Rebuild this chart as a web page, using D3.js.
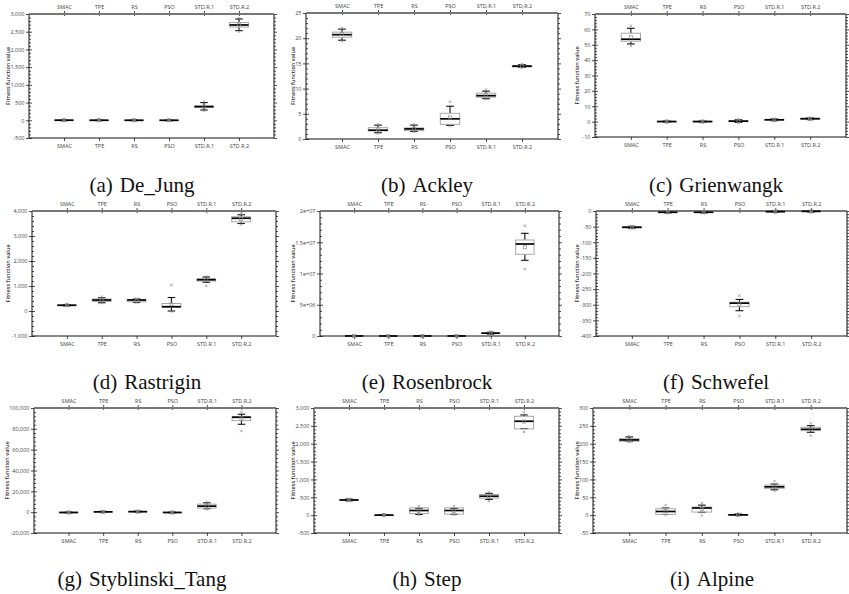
<!DOCTYPE html>
<html>
<head>
<meta charset="utf-8">
<script src="https://cdn.jsdelivr.net/npm/d3@7"></script>
<style>
  body { margin: 0; background: #fff; }
</style>
</head>
<body>
<svg id="chart" width="849" height="594"></svg>
<script>
// categories on every panel
var categories = ["SMAC", "TPE", "RS", "PSO", "STD.R.1", "STD.R.2"];

var captions = [
  ["(a)", "De_Jung"], ["(b)", "Ackley"], ["(c)", "Grienwangk"],
  ["(d)", "Rastrigin"], ["(e)", "Rosenbrock"], ["(f)", "Schwefel"],
  ["(g)", "Styblinski_Tang"], ["(h)", "Step"], ["(i)", "Alpine"]
];

// one row per category:
// [whiskerLow, q1, median, q3, whiskerHigh, mean, outlierLow, outlierHigh]
var deJung = [
  [-12, -4, 2, 8, 14, 2, -20, 22],
  [-10, -3, 1, 6, 12, 1, -15, 18],
  [-11, -4, 0, 6, 12, 1, -16, 20],
  [-13, -5, 0, 5, 11, 0, -18, 18],
  [290, 360, 385, 410, 500, 388, 270, 530],
  [2530, 2630, 2690, 2760, 2860, 2700, 2500, 2880]
];
var ackley = [
  [19.6, 20.2, 20.7, 21.2, 21.8, 20.8, 19.4, 22.0],
  [1.25, 1.6, 1.75, 2.25, 2.75, 1.9, 1.1, 2.9],
  [1.5, 1.65, 2.0, 2.2, 2.75, 2.0, 1.4, 2.9],
  [2.7, 2.9, 4.0, 5.1, 6.5, 4.3, 2.6, 7.4],
  [8.0, 8.3, 8.6, 9.1, 9.5, 8.7, 7.9, 9.8],
  [14.2, 14.3, 14.45, 14.6, 14.75, 14.45, 14.1, 14.9]
];
var grienwangk = [
  [50.5, 52.3, 53.6, 57.5, 60.7, 54.9, 49.2, 62.4],
  [-0.3, -0.1, 0.05, 0.2, 0.4, 0.05, -0.5, 0.6],
  [-0.3, -0.1, 0.05, 0.2, 0.4, 0.05, -0.5, 0.6],
  [-0.5, 0, 0.3, 0.7, 1.2, 0.4, -0.8, 1.5],
  [0.6, 0.9, 1.2, 1.4, 1.7, 1.1, 0.4, 1.9],
  [1.3, 1.6, 1.9, 2.1, 2.4, 1.8, 1.1, 2.6]
];
var rastrigin = [
  [205, 215, 230, 245, 255, 232, 200, 265],
  [330, 380, 440, 480, 530, 430, 320, 570],
  [340, 370, 440, 455, 480, 420, 330, 490],
  [0, 150, 172, 300, 540, 268, -20, 1040],
  [1150, 1200, 1250, 1290, 1360, 1250, 1000, 1380],
  [3500, 3570, 3710, 3770, 3850, 3680, 3460, 3880]
];
var rosenbrock = [
  [0, 1000, 3000, 5000, 8000, 3000, 0, 10000],
  [0, 800, 2000, 4000, 6000, 2500, 0, 9000],
  [0, 900, 2500, 4500, 7000, 2800, 0, 9500],
  [0, 700, 2000, 3500, 6000, 2200, 0, 8000],
  [3e5, 4e5, 4.5e5, 5e5, 6e5, 4.5e5, 2.5e5, 7e5],
  [1.211e7, 1.307e7, 1.472e7, 1.536e7, 1.643e7, 1.419e7, 1.072e7, 1.765e7]
];
var schwefel = [
  [-55, -53.5, -52, -50.5, -49, -52, -56, -48],
  [-6, -5, -4, -3, -2, -4, -7, -1],
  [-6, -5, -4, -3, -2, -4, -7, -1],
  [-319, -306, -295, -292, -283, -299, -336, -271],
  [-4, -3, -2, -1.5, -1, -2, -5, 0],
  [-3, -2, -1, -0.5, 0, -1, -4, 0]
];
var styblinskiTang = [
  [-700, -500, -300, -100, 100, -300, -900, 300],
  [-100, 100, 300, 500, 800, 300, -300, 1000],
  [0, 300, 500, 700, 1000, 500, -200, 1200],
  [-700, -500, -300, -100, 100, -300, -900, 300],
  [3300, 3900, 5800, 7700, 9000, 6000, 2800, 9500],
  [84400, 87900, 91100, 91700, 94000, 90000, 78000, 95900]
];
var step = [
  [400, 410, 425, 440, 450, 425, 395, 455],
  [-5, 0, 2, 5, 10, 3, -10, 12],
  [20, 45, 130, 205, 190, 120, 10, 250],
  [20, 30, 130, 205, 190, 120, 15, 250],
  [440, 475, 530, 578, 610, 520, 400, 640],
  [2424, 2415, 2629, 2768, 2805, 2620, 2332, 2880]
];
var alpine = [
  [206, 207, 210.6, 214, 219, 211, 205, 221],
  [2, 2, 10.3, 18, 20, 12, 0.5, 28],
  [8, 8.6, 20, 22.6, 28, 17, -0.8, 34],
  [-1, 0, 0.8, 1.8, 3, 1, -2, 5],
  [71, 75, 79.3, 84, 87, 80, 69, 95],
  [232, 236.6, 240.4, 246, 250.6, 241, 222.6, 257]
];

var panelData = [deJung, ackley, grienwangk, rastrigin, rosenbrock, schwefel, styblinskiTang, step, alpine];

// y axis extents and tick steps
var yDomains = [[-500, 3000], [0, 25], [-10, 70], [-1000, 4000], [0, 2e7], [-400, 0], [-20000, 100000], [-500, 3000], [-50, 300]];
var yMajor = [500, 5, 10, 1000, 5e6, 50, 20000, 500, 50];
var yMinor = [100, 1, 2, 200, 1e6, 10, 4000, 100, 10];

// layout: plot frames [left, top, right, bottom], y-label x, caption centre x / baseline
var frames = [
  [29, 14, 274, 138], [306, 13, 558, 139], [595, 14, 846, 137],
  [32, 211, 276, 336], [320, 211, 559, 336], [596, 211, 847, 336],
  [34, 408, 276, 533], [314, 408, 559, 533], [593, 408, 847, 533]
];
var labelX = [8, 293, 577, 8, 293, 577, 7, 293, 577];
var capX = [142, 427, 716, 147, 427, 716, 142, 427, 712];
var capY = [192, 192, 192, 389, 389, 389, 586, 586, 586];

var svg = d3.select("#chart");

function fmtFor(i) {
  if (i === 4) {
    return function(v) {
      if (v === 0) return "0";
      return v.toExponential().replace(/e\+(\d)$/, "e+0$1");
    };
  }
  var f = d3.format(",");
  return function(v) { return f(v).replace("\u2212", "-"); };
}

function seq(a, b, s) {
  var out = [];
  var n = Math.round((b - a) / s);
  for (var k = 0; k <= n; k++) out.push(a + k * s);
  return out;
}

panelData.forEach(function(data, i) {
  var fr = frames[i];
  var g = svg.append("g");

  var x = d3.scaleLinear().domain([0, 7]).range([fr[0], fr[2]]);
  var y = d3.scaleLinear().domain(yDomains[i]).range([fr[3], fr[1]]);
  var majors = seq(yDomains[i][0], yDomains[i][1], yMajor[i]);
  var minors = seq(yDomains[i][0], yDomains[i][1], yMinor[i]).filter(function(v) { return majors.indexOf(v) < 0; });
  var band = x(1) - x(0);

  // left axis
  var left = g.append("g").attr("transform", "translate(" + fr[0] + ",0)")
    .call(d3.axisLeft(y).tickValues(majors).tickSize(3).tickFormat(fmtFor(i)));
  g.append("g").attr("transform", "translate(" + fr[0] + ",0)")
    .call(d3.axisLeft(y).tickValues(majors).tickSize(-3).tickFormat(""));
  g.append("g").attr("transform", "translate(" + fr[0] + ",0)")
    .call(d3.axisLeft(y).tickValues(minors).tickSize(-2).tickFormat(""));
  // right axis
  g.append("g").attr("transform", "translate(" + fr[2] + ",0)")
    .call(d3.axisRight(y).tickValues(majors).tickSize(3).tickFormat(""));
  g.append("g").attr("transform", "translate(" + fr[2] + ",0)")
    .call(d3.axisRight(y).tickValues(minors).tickSize(2).tickFormat(""));
  // bottom / top category axes
  g.append("g").attr("transform", "translate(0," + fr[3] + ")")
    .call(d3.axisBottom(x).tickValues([1, 2, 3, 4, 5, 6]).tickSize(3).tickPadding(3)
      .tickFormat(function(d) { return categories[d - 1]; }));
  g.append("g").attr("transform", "translate(0," + fr[1] + ")")
    .call(d3.axisTop(x).tickValues([1, 2, 3, 4, 5, 6]).tickSize(3).tickPadding(2)
      .tickFormat(function(d) { return categories[d - 1]; }));
  g.append("g").attr("transform", "translate(0," + fr[1] + ")")
    .call(d3.axisBottom(x).tickValues([1, 2, 3, 4, 5, 6]).tickSize(2).tickFormat(""));

  g.selectAll(".domain").remove();
  g.selectAll(".tick line").attr("stroke", "#222").attr("stroke-width", 0.8);
  g.selectAll(".tick text").attr("font-size", 5.5).attr("fill", "#444")
    .style("font-family", "'Open Sans', sans-serif");
  left.selectAll(".tick text").attr("x", -4.5);

  // frame
  g.append("line").attr("x1", fr[0]).attr("x2", fr[0]).attr("y1", fr[1]).attr("y2", fr[3]).attr("stroke", "#111").attr("stroke-width", 1);
  g.append("line").attr("x1", fr[2]).attr("x2", fr[2]).attr("y1", fr[1]).attr("y2", fr[3]).attr("stroke", "#111").attr("stroke-width", 1);
  g.append("line").attr("x1", fr[0]).attr("x2", fr[2]).attr("y1", fr[3]).attr("y2", fr[3]).attr("stroke", "#111").attr("stroke-width", 1);
  g.append("line").attr("x1", fr[0]).attr("x2", fr[2]).attr("y1", fr[1]).attr("y2", fr[1]).attr("stroke", "#777").attr("stroke-width", 2);

  // y label
  g.append("text")
    .attr("transform", "translate(" + labelX[i] + "," + ((fr[1] + fr[3]) / 2) + ") rotate(-90)")
    .attr("text-anchor", "middle")
    .attr("dy", "0.35em")
    .attr("font-size", 5.5)
    .attr("font-weight", 600)
    .attr("fill", "#333")
    .style("font-family", "'Open Sans', sans-serif")
    .text("Fitness function value");

  // boxes
  var hw = band * 0.27;
  var boxes = g.selectAll(".box").data(data).enter().append("g")
    .attr("transform", function(d, j) { return "translate(" + x(j + 1) + ",0)"; });

  // whisker stems outside the box only
  boxes.append("line")
    .attr("y1", function(d) { return y(d[0]); })
    .attr("y2", function(d) { return y(Math.max(d[0], d[1])); })
    .attr("stroke", "#111").attr("stroke-width", 1.1);
  boxes.append("line")
    .attr("y1", function(d) { return y(d[4]); })
    .attr("y2", function(d) { return y(Math.min(d[4], d[3])); })
    .attr("stroke", "#111").attr("stroke-width", 1.1);
  boxes.append("line").attr("x1", -hw * 0.4).attr("x2", hw * 0.4)
    .attr("y1", function(d) { return y(d[0]); })
    .attr("y2", function(d) { return y(d[0]); })
    .attr("stroke", "#111").attr("stroke-width", 1.1);
  boxes.append("line").attr("x1", -hw * 0.4).attr("x2", hw * 0.4)
    .attr("y1", function(d) { return y(d[4]); })
    .attr("y2", function(d) { return y(d[4]); })
    .attr("stroke", "#111").attr("stroke-width", 1.1);
  boxes.append("rect")
    .attr("x", -hw).attr("width", 2 * hw)
    .attr("y", function(d) { return y(d[3]); })
    .attr("height", function(d) { return Math.max(0.5, y(d[1]) - y(d[3])); })
    .attr("fill", "none").attr("stroke", "#a8a8a8").attr("stroke-width", 1);
  boxes.append("line").attr("x1", -hw).attr("x2", hw)
    .attr("y1", function(d) { return y(d[2]); })
    .attr("y2", function(d) { return y(d[2]); })
    .attr("stroke", "#000").attr("stroke-width", 1.7);
  // mean
  boxes.append("rect")
    .attr("x", -1.5).attr("width", 3).attr("height", 3)
    .attr("y", function(d) { return y(d[5]) - 1.5; })
    .attr("fill", "none").attr("stroke", "#888").attr("stroke-width", 0.7);
  // min / max marks
  [6, 7].forEach(function(k) {
    boxes.append("path")
      .attr("d", function(d) {
        var cy = y(d[k]);
        return "M-1.3," + (cy - 1.3) + "L1.3," + (cy + 1.3) + "M-1.3," + (cy + 1.3) + "L1.3," + (cy - 1.3);
      })
      .attr("stroke", "#888").attr("stroke-width", 0.7);
  });

  // caption
  var cap = svg.append("text")
    .attr("x", capX[i]).attr("y", capY[i])
    .attr("text-anchor", "middle")
    .style("font-family", "'Liberation Serif', 'DejaVu Serif', serif")
    .attr("font-size", 21)
    .attr("fill", "#111");
  cap.append("tspan").text(captions[i][0]);
  cap.append("tspan").attr("dx", 7).text(captions[i][1]);
});
</script>
</body>
</html>
